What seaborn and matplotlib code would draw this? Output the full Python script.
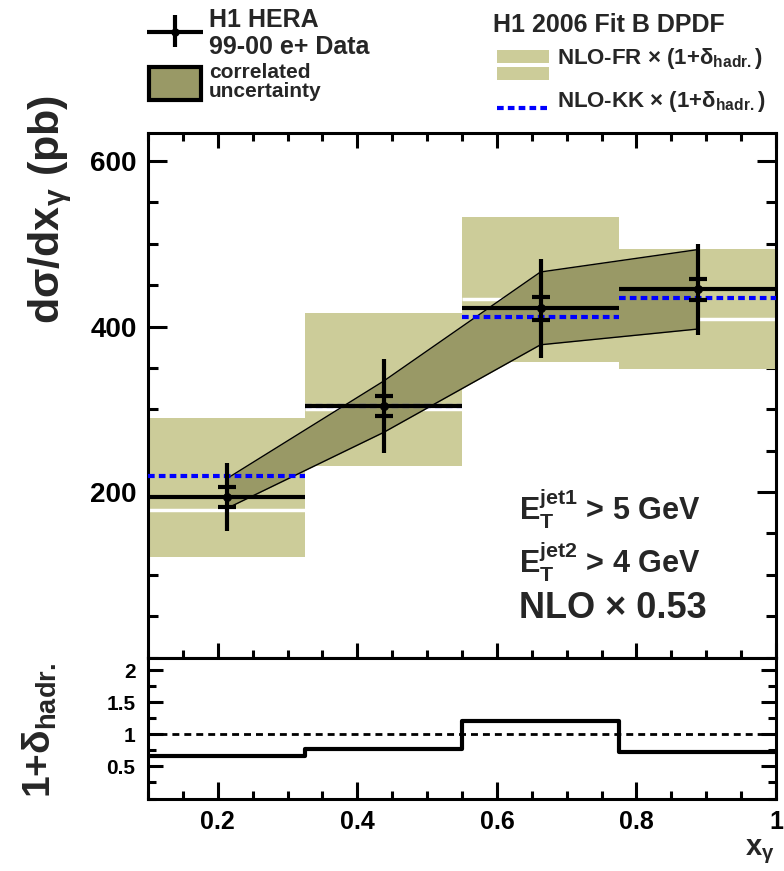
import numpy as np
import matplotlib
matplotlib.use("Agg")
import matplotlib.pyplot as plt
from matplotlib.patches import Rectangle
from matplotlib.ticker import MultipleLocator
import seaborn as sns

# x_gamma bin edges
bin_edges = [0.1, 0.325, 0.55, 0.775, 1.0]

# H1 99-00 e+ data (pb)
data_xsec = [194, 304, 422, 445]
stat_err = [11.5, 12, 13.5, 13]
tot_err = [41, 57, 60, 55]

# correlated uncertainty band, given at the bin centres
corr_lo = [180, 272, 378, 397]
corr_hi = [216, 334, 466, 493]

# NLO-FR x (1+delta_hadr) band and central value
fr_lo = [121, 232, 357, 349]
fr_hi = [289, 417, 532, 494]
fr_cen = [178, 300, 433, 409]

# NLO-KK x (1+delta_hadr)
kk_xsec = [219, 304, 411, 435]

# hadronisation correction 1+delta_hadr
hadr_corr = [0.67, 0.77, 1.21, 0.72]

x_ticks = [0.2, 0.4, 0.6, 0.8, 1.0]
x_ticklabels = ["0.2", "0.4", "0.6", "0.8", "1"]
y_ticks = [200, 400, 600]
r_ticks = [0.5, 1.0, 1.5, 2.0]
r_ticklabels = ["0.5", "1", "1.5", "2"]

light = "#cccc99"
dark = "#999966"

sns.set_style("ticks")
plt.rcParams["font.family"] = ["Liberation Sans", "DejaVu Sans"]
plt.rcParams["font.weight"] = "bold"
plt.rcParams["axes.edgecolor"] = "black"
plt.rcParams["axes.linewidth"] = 2.2
plt.rcParams["xtick.color"] = "black"
plt.rcParams["ytick.color"] = "black"
plt.rcParams["xtick.direction"] = "in"
plt.rcParams["ytick.direction"] = "in"

edges = np.array(bin_edges)
lo_e, hi_e = edges[:-1], edges[1:]
centres = 0.5 * (lo_e + hi_e)

W, H = 784, 871
fig = plt.figure(figsize=(W / 100, H / 100), dpi=100)
ax = fig.add_axes([148 / W, 1 - 657.5 / H, 628 / W, (657.5 - 133) / H])
ax2 = fig.add_axes([148 / W, 1 - 798.5 / H, 628 / W, (798.5 - 657.5) / H])

# NLO-FR band with its central value as a white line
for i in range(len(fr_lo)):
    ax.fill_between([lo_e[i], hi_e[i]], fr_lo[i], fr_hi[i], color=light, lw=0, zorder=1)
ax.hlines(fr_cen, lo_e, hi_e, colors="white", lw=2.5, zorder=2)

# correlated uncertainty
ax.fill_between(centres, corr_lo, corr_hi, color=dark, lw=0, zorder=3)
sns.lineplot(x=centres, y=corr_hi, ax=ax, color="black", lw=1, zorder=4)
sns.lineplot(x=centres, y=corr_lo, ax=ax, color="black", lw=1, zorder=4)

# NLO-KK
ax.hlines(kk_xsec, lo_e, hi_e, colors="blue", lw=3, linestyles=[(0, (1.6, 1.0))], zorder=5)

# data
ax.hlines(data_xsec, lo_e, hi_e, colors="black", lw=3, zorder=6)
ax.errorbar(centres, data_xsec, yerr=tot_err, fmt="none", ecolor="black",
            elinewidth=3, capsize=0, zorder=7)
ax.errorbar(centres, data_xsec, yerr=stat_err, fmt="none", ecolor="black",
            elinewidth=0, capsize=6.5, capthick=3, zorder=7)
sns.scatterplot(x=centres, y=data_xsec, ax=ax, color="black", s=35,
                edgecolor="black", zorder=8)

ax.set_xlim(0.1, 1.0)
ax.set_ylim(0, 634)
ax.set_xticks(x_ticks)
ax.set_xticklabels([])
ax.set_yticks(y_ticks)
ax.xaxis.set_minor_locator(MultipleLocator(0.05))
ax.yaxis.set_minor_locator(MultipleLocator(50))
ax.tick_params(axis="both", which="both", top=True, bottom=True, left=True, right=True)
ax.tick_params(axis="x", which="major", length=11, width=2.2)
ax.tick_params(axis="x", which="minor", length=5.5, width=2.2)
ax.tick_params(axis="y", which="major", length=14, width=2.2, labelsize=20, pad=8)
ax.tick_params(axis="y", which="minor", length=7, width=2.2)
ax.set_xlabel("")
ax.set_ylabel("")

ax.text(0.631, 165, "E$_{\\mathregular{T}}^{\\mathregular{jet1}}$ > 5 GeV", fontsize=22)
ax.text(0.631, 102, "E$_{\\mathregular{T}}^{\\mathregular{jet2}}$ > 4 GeV", fontsize=22)
ax.text(0.631, 48, "NLO × 0.53", fontsize=26)

# ratio panel
sns.lineplot(x=edges, y=np.append(hadr_corr, hadr_corr[-1]), ax=ax2,
             drawstyle="steps-post", color="black", lw=3)
ax2.axhline(1.0, color="black", lw=2, ls=(0, (2.5, 1.8)))
ax2.set_xlim(0.1, 1.0)
ax2.set_ylim(0, 2.2)
ax2.set_xticks(x_ticks)
ax2.set_xticklabels(x_ticklabels)
ax2.set_yticks(r_ticks)
ax2.set_yticklabels(r_ticklabels)
ax2.xaxis.set_minor_locator(MultipleLocator(0.05))
ax2.yaxis.set_minor_locator(MultipleLocator(0.25))
ax2.tick_params(axis="both", which="both", top=False, bottom=True, left=True, right=True)
ax2.tick_params(axis="x", which="major", length=12, width=2.2, labelsize=18, pad=8)
ax2.tick_params(axis="x", which="minor", length=6, width=2.2)
ax2.tick_params(axis="y", which="major", length=11, width=2.2, labelsize=15, pad=9)
ax2.tick_params(axis="y", which="minor", length=5.5, width=2.2)
ax2.set_xlabel("")
ax2.set_ylabel("")

fig.text(50 / W, 1 - 95 / H, "dσ/dx$_{\\mathregular{γ}}$ (pb)", rotation=90,
         ha="center", va="top", fontsize=31)
fig.text(40 / W, 1 - 730 / H, "1+δ$_{\\mathregular{hadr.}}$", rotation=90,
         ha="center", va="center", fontsize=28)
fig.text(775 / W, 1 - 855 / H, "x$_{\\mathregular{γ}}$", ha="right", va="baseline", fontsize=21)

# legend drawn in pixel coordinates above the frame
lg = fig.add_axes([0, 0, 1, 1], zorder=10)
lg.set_xlim(0, W)
lg.set_ylim(H, 0)
lg.axis("off")
lg.patch.set_alpha(0)

lg.plot([147, 203], [31.7, 31.7], color="black", lw=3, solid_capstyle="butt")
lg.plot([175, 175], [15, 47], color="black", lw=3, solid_capstyle="butt")
lg.plot([175], [31.7], "o", color="black", ms=5)
lg.text(209, 26.7, "H1 HERA", fontsize=18, va="baseline")
lg.text(209, 54, "99-00 e+ Data", fontsize=18, va="baseline")
lg.add_patch(Rectangle((149, 67), 52, 33, facecolor=dark, edgecolor="black", lw=3))
lg.text(209, 78.3, "correlated", fontsize=15, va="baseline")
lg.text(209, 97, "uncertainty", fontsize=15, va="baseline")

lg.text(493, 31.7, "H1 2006 Fit B DPDF", fontsize=18, va="baseline")
lg.add_patch(Rectangle((497, 50), 52, 13, facecolor=light, lw=0))
lg.add_patch(Rectangle((497, 67), 52, 13, facecolor=light, lw=0))
lg.text(557, 64, "NLO-FR × (1+δ$_{\\mathregular{hadr.}}$)", fontsize=16, va="baseline")
lg.plot([497, 548], [108, 108], color="blue", lw=3, ls=(0, (1.6, 1.0)))
lg.text(557, 107, "NLO-KK × (1+δ$_{\\mathregular{hadr.}}$)", fontsize=16, va="baseline")

fig.savefig("out.png", dpi=100)
